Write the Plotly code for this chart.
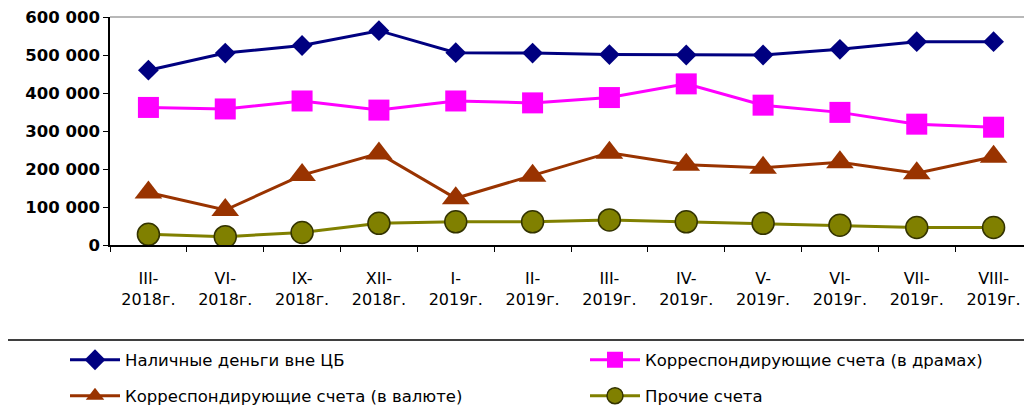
import plotly.graph_objects as go

categories = ["III-<br>2018г.", "VI-<br>2018г.", "IX-<br>2018г.", "XII-<br>2018г.",
              "I-<br>2019г.", "II-<br>2019г.", "III-<br>2019г.", "IV-<br>2019г.",
              "V-<br>2019г.", "VI-<br>2019г.", "VII-<br>2019г.", "VIII-<br>2019г."]
cash = [460000, 505000, 525000, 564000, 506000, 505000, 501000, 500000, 500000, 515000, 535000, 535000]
corr_amd = [362000, 358000, 379000, 355000, 379000, 374000, 388000, 424000, 368000, 349000, 318000, 310000]
corr_fx = [138000, 92000, 184000, 241000, 123000, 182000, 243000, 211000, 203000, 218000, 189000, 232000]
other = [28000, 22000, 33000, 57000, 61000, 61000, 66000, 61000, 57000, 52000, 46000, 46000]
names = ["Наличные деньги вне ЦБ", "Корреспондирующие счета (в драмах)",
         "Корреспондирующие счета (в валюте)", "Прочие счета"]
yticks = [0, 100000, 200000, 300000, 400000, 500000, 600000]

FONT = "DejaVu Sans"
fig = go.Figure()
fig.add_trace(go.Scatter(x=categories, y=cash, name=names[0], mode="lines+markers",
                         line=dict(color="#000080", width=3),
                         marker=dict(symbol="diamond", size=16, color="#000080"),
                         legend="legend"))
fig.add_trace(go.Scatter(x=categories, y=corr_amd, name=names[1], mode="lines+markers",
                         line=dict(color="#FF00FF", width=3),
                         marker=dict(symbol="square", size=21, color="#FF00FF"),
                         legend="legend2"))
fig.add_trace(go.Scatter(x=categories, y=corr_fx, name=names[2], mode="lines+markers",
                         line=dict(color="#993300", width=3),
                         marker=dict(symbol="triangle-up", size=24, color="#993300"),
                         legend="legend3"))
fig.add_trace(go.Scatter(x=categories, y=other, name=names[3], mode="lines+markers",
                         line=dict(color="#808000", width=3),
                         marker=dict(symbol="circle", size=22, color="#808000",
                                     line=dict(color="#333300", width=1.5)),
                         legend="legend4"))

OFF = 8  # page body margin offset
W, H = 1032 - OFF, 410 - OFF
L = 110 - OFF
T = 17 - OFF
R = 0
B = H - (245 - OFF)
pw = W - L - R
ph = H - T - B

def px_x(px):
    return (px - OFF - L) / pw

def px_y(py):
    return (H - B - (py - OFF)) / ph

leg_font = dict(family=FONT, size=16.5, color="black")
common = dict(orientation="h", xanchor="left", yanchor="middle", bgcolor="rgba(0,0,0,0)",
              borderwidth=0, font=leg_font, itemwidth=50)
fig.update_layout(
    width=W, height=H,
    margin=dict(l=L, r=R, t=T, b=B, autoexpand=False),
    paper_bgcolor="white", plot_bgcolor="white",
    separators=". ",
    showlegend=True,
    legend=dict(x=px_x(65), y=px_y(360), **common),
    legend2=dict(x=px_x(585), y=px_y(360), **common),
    legend3=dict(x=px_x(65), y=px_y(396), **common),
    legend4=dict(x=px_x(585), y=px_y(396), **common),
    xaxis=dict(showline=True, linecolor="black", linewidth=1.5, ticks="outside",
               tickson="boundaries", ticklen=5, tickcolor="black", showgrid=False,
               tickfont=dict(family=FONT, size=16, color="black"), ticklabelstandoff=18,
               ticklabeloverflow="allow", range=[-0.5, 11.5], zeroline=False),
    yaxis=dict(range=[0, 600000], tickvals=yticks, tickformat=",d", showline=True,
               linecolor="black", linewidth=1.5, ticks="outside", ticklen=5, tickcolor="black",
               showgrid=False, zeroline=False, ticklabeloverflow="allow",
               tickfont=dict(family=FONT, size=16.5, color="black", weight="bold")),
    shapes=[
        dict(type="line", xref="paper", yref="paper", x0=0, x1=1, y0=1, y1=1,
             line=dict(color="#A0A0A0", width=1.5)),
        dict(type="rect", xref="paper", yref="paper", x0=px_x(7), x1=px_x(1045),
             y0=px_y(340), y1=px_y(420), line=dict(color="black", width=1.5),
             fillcolor="rgba(0,0,0,0)"),
    ],
)
fig.write_html("out.html")
